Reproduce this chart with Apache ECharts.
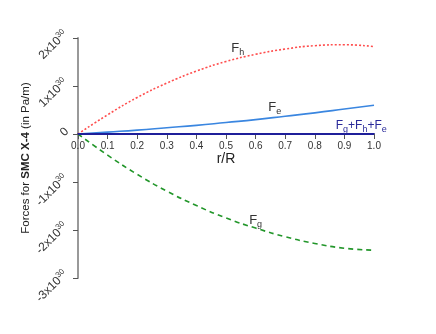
<!DOCTYPE html>
<html><head><meta charset="utf-8">
<script src="https://cdn.jsdelivr.net/npm/echarts@6/dist/echarts.min.js"></script>
<style>html,body{margin:0;padding:0;background:#fff}#c{width:436px;height:334px}</style>
</head><body><div id="c"></div>
<script>
// r/R positions
const rR = [0.0, 0.1, 0.2, 0.3, 0.4, 0.5, 0.6, 0.7, 0.8, 0.9, 1.0];
// forces, in units of 1e30 Pa/m
const Fh = [0, 0.40, 0.76, 1.06, 1.31, 1.51, 1.66, 1.77, 1.84, 1.86, 1.82];
const Fe = [0, 0.04, 0.08, 0.13, 0.18, 0.24, 0.30, 0.37, 0.44, 0.52, 0.60];
const Fg = [0, -0.44, -0.84, -1.19, -1.49, -1.75, -1.96, -2.14, -2.28, -2.38, -2.42];
const Fsum = [0, 0, 0, 0, 0, 0, 0, 0, 0, 0, 0];

const pair = (xs, ys) => xs.map((x, i) => [x, ys[i]]);
const font = 'Liberation Sans, Arial, sans-serif';

function curveLabel(coord, text, color) {
  return {
    symbol: 'circle', symbolSize: 1, itemStyle: {color: 'rgba(0,0,0,0)'},
    data: [{coord: coord, label: {show: true, position: 'inside', formatter: text,
      fontFamily: font, color: color,
      rich: {
        b: {fontSize: 13, color: color, fontFamily: font},
        s: {fontSize: 9, color: color, fontFamily: font, padding: [8, 0, 0, 0]},
        p: {fontSize: 12, color: color, fontFamily: font}
      }}}],
    silent: true, animation: false
  };
}

const chart = echarts.init(document.getElementById('c'), null, {renderer: 'canvas'});
chart.setOption({
  animation: false,
  backgroundColor: '#fff',
  grid: {left: 78, right: 62, top: 38, bottom: 56, containLabel: false},
  xAxis: {
    type: 'value', min: 0, max: 1, interval: 0.1,
    position: 'bottom', offset: -144,
    name: 'r/R', nameLocation: 'middle', nameGap: 18, nameMoveOverlap: false,
    nameTextStyle: {fontSize: 14, color: '#222', fontFamily: font},
    axisLine: {show: true, onZero: false, lineStyle: {color: '#1f1f9a', width: 2}},
    axisTick: {show: true, length: 5, lineStyle: {color: '#555'}},
    axisLabel: {fontSize: 10, color: '#333', fontFamily: font, margin: 7,
      formatter: v => v.toFixed(1)},
    splitLine: {show: false}
  },
  yAxis: {
    type: 'value', min: -3, max: 2, interval: 1,
    name: 'Forces for {b|SMC X-4} (in Pa/m)', nameLocation: 'middle', nameGap: 46,
    nameMoveOverlap: false,
    nameTextStyle: {fontSize: 11.5, color: '#222', fontFamily: font,
      rich: {b: {fontSize: 11.5, fontWeight: 'bold', color: '#222', fontFamily: font}}},
    axisLine: {show: true, onZero: false, lineStyle: {color: '#999', width: 2}},
    axisTick: {show: true, length: 5, lineStyle: {color: '#555'}},
    axisLabel: {rotate: 45, fontSize: 12, color: '#333', fontFamily: font, margin: 7,
      verticalAlign: 'bottom',
      formatter: v => v === 0 ? '{a|0}' : '{a|' + v + 'x10}{s|30}',
      rich: {
        a: {fontSize: 12, color: '#333', fontFamily: font},
        s: {fontSize: 8, color: '#333', fontFamily: font, padding: [0, 0, 7, 0]}
      }},
    splitLine: {show: false}
  },
  series: [
    {type: 'line', data: pair(rR, Fh), smooth: true, showSymbol: false,
     lineStyle: {color: '#ff4d4d', width: 1.6, type: [2, 2]},
     markPoint: curveLabel([0.54, 1.78], '{b|F}{s|h}', '#333')},
    {type: 'line', data: pair(rR, Fe), smooth: true, showSymbol: false,
     lineStyle: {color: '#3a86e0', width: 1.6},
     markPoint: curveLabel([0.665, 0.56], '{b|F}{s|e}', '#333')},
    {type: 'line', data: pair(rR, Fg), smooth: true, showSymbol: false,
     lineStyle: {color: '#22962a', width: 1.6, type: [5, 4]},
     markPoint: curveLabel([0.6, -1.8], '{b|F}{s|g}', '#333')},
    {type: 'line', data: pair(rR, Fsum), showSymbol: false,
     lineStyle: {color: '#1f1f9a', width: 2},
     markPoint: curveLabel([0.957, 0.17], '{p|F}{s|g}{p|+F}{s|h}{p|+F}{s|e}', '#2a2a9a')}
  ]
});
</script></body></html>
